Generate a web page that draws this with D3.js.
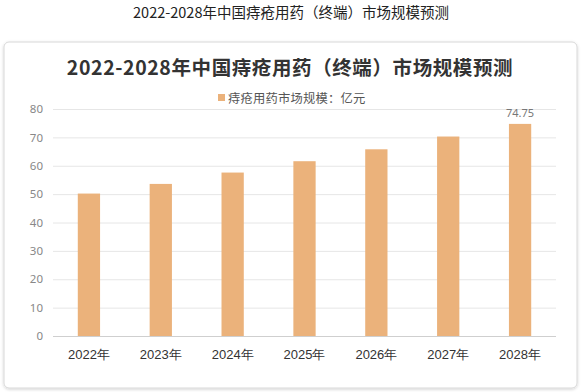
<!DOCTYPE html>
<html><head><meta charset="utf-8">
<script src="https://cdn.jsdelivr.net/npm/d3@7"></script>
<style>
html,body{margin:0;padding:0;background:#fff;}
svg{display:block;font-family:"Noto Sans CJK SC","Noto Sans",sans-serif;}
</style></head>
<body><svg id="c" width="581" height="392"></svg>
<script>
const pageTitle = "2022-2028年中国痔疮用药（终端）市场规模预测";
const chartTitle = "2022-2028年中国痔疮用药（终端）市场规模预测";
const seriesName = "痔疮用药市场规模：亿元";
const categories = ["2022年","2023年","2024年","2025年","2026年","2027年","2028年"];
const values = [50.2, 53.6, 57.6, 61.6, 65.8, 70.3, 74.75];
const yTicks = [0,10,20,30,40,50,60,70,80];
const labeledIndex = 6;

const svg = d3.select("#c");
const defs = svg.append("defs");
const f = defs.append("filter").attr("id","sh").attr("x","-5%").attr("y","-5%").attr("width","110%").attr("height","110%");
f.append("feDropShadow").attr("dx",0).attr("dy",1).attr("stdDeviation",1.5).attr("flood-color","#000").attr("flood-opacity",0.18);

svg.append("text").attr("x",291).attr("y",17.5).attr("text-anchor","middle")
  .attr("font-size",14.5).attr("fill","#222").text(pageTitle);

svg.append("rect").attr("x",4).attr("y",42).attr("width",573).attr("height",346)
  .attr("rx",5).attr("fill","#fff").attr("stroke","#d8d8d8").attr("stroke-width",1).attr("filter","url(#sh)");

svg.append("text").attr("x",290).attr("y",75).attr("text-anchor","middle")
  .attr("font-size",19.5).attr("font-weight","bold").attr("fill","#333").attr("letter-spacing","0.6")
  .text(chartTitle);

const color = "#ebb27b";
svg.append("rect").attr("x",218).attr("y",94).attr("width",7).attr("height",7).attr("fill",color);
svg.append("text").attr("x",228).attr("y",102.5).attr("font-size",12.3).attr("fill","#555").attr("letter-spacing","0.2").text(seriesName);

const y = d3.scaleLinear().domain([0,80]).range([336,109]);
const x = d3.scaleBand().domain(categories).range([53,556]).paddingInner(0.69).paddingOuter(0.345);

const gy = svg.append("g").attr("transform","translate(53,0)")
  .call(d3.axisLeft(y).tickValues(yTicks).tickSize(-503).tickPadding(10));
gy.select(".domain").remove();
gy.selectAll(".tick line").attr("stroke","#e6e6e6");
gy.selectAll(".tick text").attr("fill","#888").attr("font-size",11.5).attr("font-family","\"Noto Sans\",sans-serif");
gy.selectAll(".tick").filter(d=>d===0).select("line").attr("stroke","#cfcfcf");

svg.append("g").selectAll("rect").data(values).join("rect")
  .attr("x",(d,i)=>x(categories[i])).attr("width",x.bandwidth())
  .attr("y",d=>y(d)).attr("height",d=>y(0)-y(d)).attr("fill",color);

const gx = svg.append("g").attr("transform","translate(0,336)")
  .call(d3.axisBottom(x).tickSize(0).tickPadding(14));
gx.select(".domain").remove();
gx.selectAll(".tick text").attr("fill","#333").attr("font-size",13);

svg.append("text").attr("x",x(categories[labeledIndex])+x.bandwidth()/2).attr("y",y(values[labeledIndex])-7)
  .attr("text-anchor","middle").attr("font-size",11).attr("fill","#777").attr("font-family","\"Noto Sans\",sans-serif")
  .text(values[labeledIndex]);
</script></body></html>
